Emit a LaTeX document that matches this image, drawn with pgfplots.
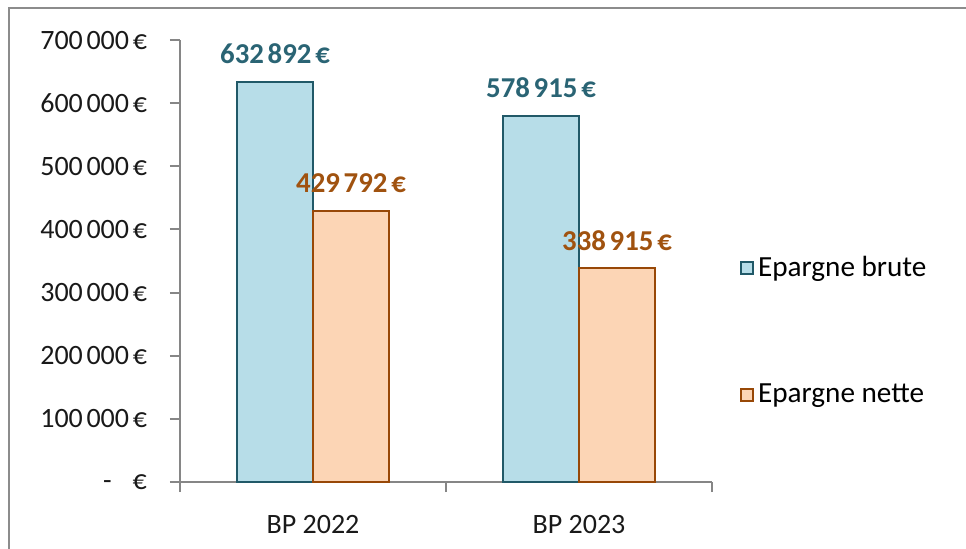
\documentclass[border=0pt]{standalone}
\usepackage{fontspec}
\setmainfont{Carlito}
\usepackage{pgfplots}
\pgfplotsset{compat=1.18}
\definecolor{bfill}{HTML}{B7DDE8}
\definecolor{bdraw}{HTML}{215968}
\definecolor{ofill}{HTML}{FCD5B5}
\definecolor{odraw}{HTML}{984807}
\definecolor{axgray}{HTML}{868686}
\definecolor{blab}{HTML}{2A6474}
\definecolor{olab}{HTML}{A0520F}
\newcommand{\g}{\hspace{0.13em}}
\begin{document}
\begin{tikzpicture}
\useasboundingbox (-90pt,-33pt) rectangle (393pt,241pt);
\draw[color=black!45, line width=1.3pt] (-85.5pt,-60pt) -- (-85.5pt,237pt) -- (420pt,237pt);
\begin{axis}[
  scale only axis, width=266pt, height=221pt,
  at={(0pt,0pt)}, anchor=south west,
  xmin=-0.5, xmax=1.5, ymin=0, ymax=700000,
  scaled y ticks=false,
  axis x line=bottom, axis y line=left,
  axis line style={axgray, line width=1pt, -},
  ybar=0pt, bar width=38pt,
  xtick={-0.5,0.5,1.5}, x tick label as interval,
  xticklabels={BP 2022, BP 2023},
  ytick={0,100000,200000,300000,400000,500000,600000,700000},
  yticklabels={-\hspace{0.75em}€, 100\g000\g€, 200\g000\g€, 300\g000\g€, 400\g000\g€, 500\g000\g€, 600\g000\g€, 700\g000\g€},
  tick align=outside, major tick length=5pt,
  tick style={axgray, line width=1pt},
  ticklabel style={font=\fontsize{14}{16}\selectfont, text=black!90},
  yticklabel style={xshift=-8pt},
  xticklabel style={yshift=-8pt},
  legend style={draw=none, fill=none, at={(1.052,0.52)}, anchor=north west, inner sep=0pt,
    font=\fontsize{14.6}{17}\selectfont, row sep=48pt},
  legend cell align=left,
  point meta=explicit symbolic,
  nodes near coords,
]
\addplot[fill=bfill, draw=bdraw, line width=1pt,
  every node near coord/.append style={font=\fontsize{14.4}{16}\selectfont\bfseries, text=blab, anchor=south, yshift=5.5pt},
  legend image code/.code={\draw[fill=bfill, draw=bdraw, line width=1pt] (0pt,-3pt) rectangle (6pt,3pt);}]
  coordinates {(0,632892) [632\g892\g€] (1,578915) [578\g915\g€]};
\addlegendentry{Epargne brute}
\addplot[fill=ofill, draw=odraw, line width=1pt,
  every node near coord/.append style={font=\fontsize{14.4}{16}\selectfont\bfseries, text=olab, anchor=south, yshift=5pt},
  legend image code/.code={\draw[fill=ofill, draw=odraw, line width=1pt] (0pt,-3pt) rectangle (6pt,3pt);}]
  coordinates {(0,429792) [429\g792\g€] (1,338915) [338\g915\g€]};
\addlegendentry{Epargne nette}
\end{axis}
\end{tikzpicture}
\end{document}
